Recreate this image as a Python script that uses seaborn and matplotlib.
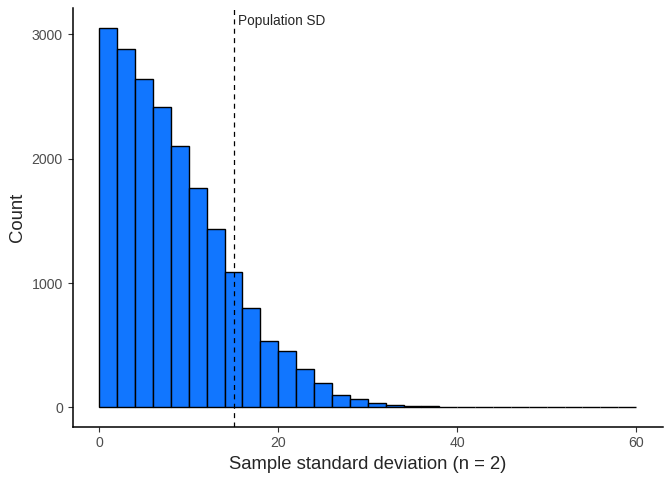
import matplotlib
matplotlib.use("Agg")
import matplotlib.pyplot as plt
import numpy as np
import pandas as pd
import seaborn as sns

# histogram of sample SDs (n = 2), bins of width 2 from 0 to 60
bin_width = 2
bin_start = 0
bin_stop = 60
counts = [3055, 2882, 2640, 2420, 2106, 1765, 1438, 1086, 803, 537,
          456, 311, 200, 102, 68, 34, 23, 15, 9, 5,
          3, 2, 1, 1, 1, 0, 0, 0, 0, 1]
pop_sd = 15
label_text = "Population SD"

mids = np.arange(bin_start, bin_stop, bin_width) + bin_width / 2
df = pd.DataFrame({"sd": mids, "n": counts})

sns.set_style("ticks")
plt.rcParams['font.family'] = ['Liberation Sans', 'DejaVu Sans']

fig = plt.figure(figsize=(6.72, 4.8), dpi=100)
ax = fig.add_axes([72.5 / 672, 1 - 426.5 / 480, (663 - 72.5) / 672, (426.5 - 8) / 480])

sns.histplot(data=df, x="sd", weights="n", binwidth=bin_width,
             binrange=(bin_start, bin_stop), color="#1176FF",
             alpha=1, edgecolor="black", linewidth=1.0, ax=ax)

ax.axvline(pop_sd, color="black", linestyle=(0, (4, 3.5)), linewidth=0.9)
ax.text(pop_sd + 0.55, 3110, label_text, ha="left", va="center", fontsize=9.8)

ax.set_xlim(-3, 63)
ax.set_ylim(-153, 3213)
ax.set_xticks([0, 20, 40, 60])
ax.set_yticks([0, 1000, 2000, 3000])

ax.set_xlabel("Sample standard deviation (n = 2)", fontsize=13.3, labelpad=4)
ax.set_ylabel("Count", fontsize=13.3, labelpad=4)
ax.tick_params(labelsize=10.2, labelcolor="#4D4D4D", color="#333333",
               length=3.5, width=0.8)

sns.despine(ax=ax)
for s in ["left", "bottom"]:
    ax.spines[s].set_linewidth(1.1)
    ax.spines[s].set_color("black")

fig.savefig("out.png", dpi=100)
